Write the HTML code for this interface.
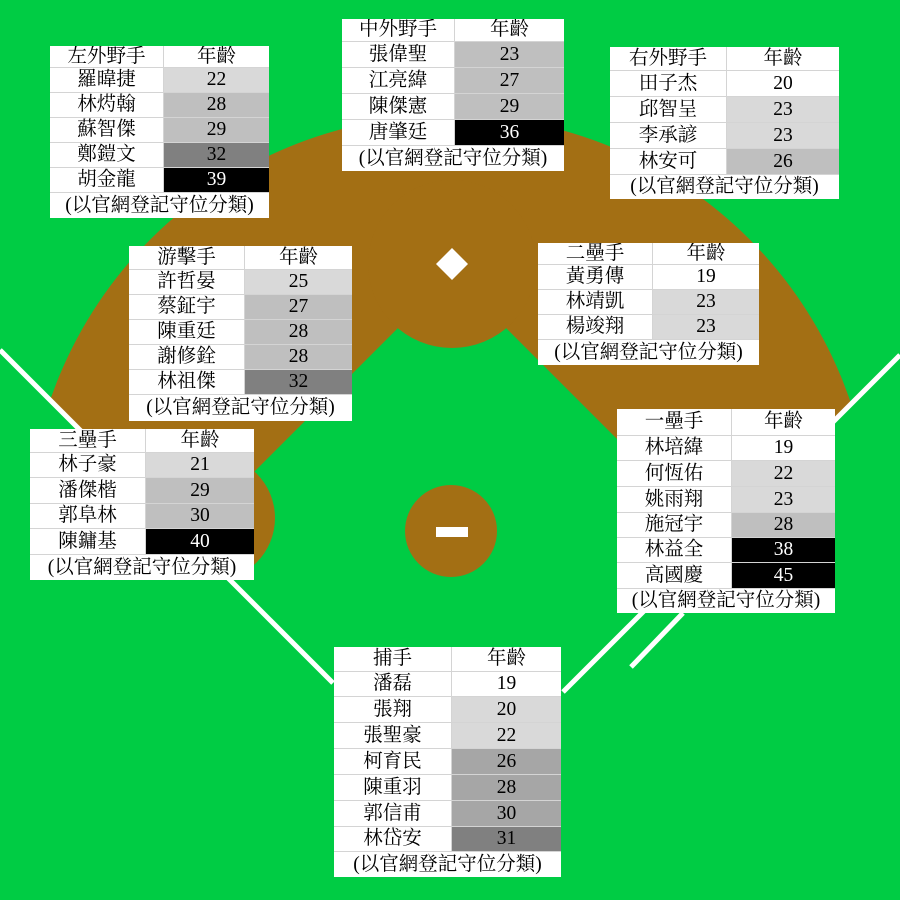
<!DOCTYPE html>
<html style="overflow:hidden"><head><meta charset="utf-8"><style>
html,body{margin:0;width:900px;height:900px;overflow:hidden;}
body{background:#00cc44;position:relative;font-family:"Liberation Serif","Noto Serif CJK SC","Noto Sans CJK TC",serif;}
svg{position:absolute;left:0;top:0}
.t{position:absolute;background:#fff;}
.r{display:flex;box-sizing:border-box;border-bottom:1px solid #d4d4d4;}
.r div{display:flex;align-items:center;justify-content:center;font-size:19.5px;line-height:1;color:#000;box-sizing:border-box;overflow:hidden;white-space:nowrap}
.r div:first-child{border-right:1px solid #d4d4d4}
.f{display:flex;align-items:center;justify-content:center;font-size:19.5px;line-height:1;white-space:nowrap;color:#000;overflow:hidden}
.a{background:#d9d9d9}.b{background:#bfbfbf}.c{background:#808080}.k{background:#000;color:#fff!important}.g{background:#a6a6a6}
</style></head><body>
<svg width="900" height="900">
<defs><clipPath id="fair"><polygon points="0,0 900,0 900,355 452.5,802.5 0,350"/></clipPath></defs>
<g clip-path="url(#fair)">
<circle cx="450" cy="538" r="423" fill="#a36f14"/>
<polygon points="452,274 900,722 900,900 0,900 0,726" fill="#00cc44"/>
<circle cx="452" cy="264" r="84" fill="#a36f14"/>
<circle cx="212" cy="518" r="63" fill="#a36f14"/>
<circle cx="692" cy="518" r="63" fill="#a36f14"/>
</g>
<circle cx="451" cy="531" r="46" fill="#a36f14"/>
<rect x="436" y="527" width="32" height="10" fill="#fff"/>
<polygon points="452,248 468,264 452,280 436,264" fill="#fff"/>
<line x1="0" y1="350" x2="333" y2="683" stroke="#fff" stroke-width="5"/>
<line x1="900" y1="355" x2="563" y2="692" stroke="#fff" stroke-width="5"/>
<line x1="683" y1="613" x2="631" y2="667" stroke="#fff" stroke-width="5"/>
</svg>

<div class="t" style="left:50px;top:46px;width:219px">
<div class="r" style="height:22px"><div style="width:114px">左外野手</div><div style="flex:1">年齡</div></div>
<div class="r" style="height:25px"><div style="width:114px">羅暐捷</div><div class="a" style="flex:1">22</div></div>
<div class="r" style="height:25px"><div style="width:114px">林烵翰</div><div class="b" style="flex:1">28</div></div>
<div class="r" style="height:25px"><div style="width:114px">蘇智傑</div><div class="b" style="flex:1">29</div></div>
<div class="r" style="height:25px"><div style="width:114px">鄭鎧文</div><div class="c" style="flex:1">32</div></div>
<div class="r" style="height:25px"><div style="width:114px">胡金龍</div><div class="k" style="flex:1">39</div></div>
<div class="f" style="height:25px">(以官網登記守位分類)</div>
</div>

<div class="t" style="left:342px;top:19px;width:222px">
<div class="r" style="height:23px"><div style="width:113px">中外野手</div><div style="flex:1">年齡</div></div>
<div class="r" style="height:26px"><div style="width:113px">張偉聖</div><div class="b" style="flex:1">23</div></div>
<div class="r" style="height:26px"><div style="width:113px">江亮緯</div><div class="b" style="flex:1">27</div></div>
<div class="r" style="height:26px"><div style="width:113px">陳傑憲</div><div class="b" style="flex:1">29</div></div>
<div class="r" style="height:26px"><div style="width:113px">唐肇廷</div><div class="k" style="flex:1">36</div></div>
<div class="f" style="height:25px">(以官網登記守位分類)</div>
</div>

<div class="t" style="left:610px;top:47px;width:229px">
<div class="r" style="height:24px"><div style="width:117px">右外野手</div><div style="flex:1">年齡</div></div>
<div class="r" style="height:26px"><div style="width:117px">田子杰</div><div style="flex:1">20</div></div>
<div class="r" style="height:26px"><div style="width:117px">邱智呈</div><div class="a" style="flex:1">23</div></div>
<div class="r" style="height:26px"><div style="width:117px">李承諺</div><div class="a" style="flex:1">23</div></div>
<div class="r" style="height:26px"><div style="width:117px">林安可</div><div class="b" style="flex:1">26</div></div>
<div class="f" style="height:24px">(以官網登記守位分類)</div>
</div>

<div class="t" style="left:129px;top:246px;width:223px">
<div class="r" style="height:24px"><div style="width:116px">游擊手</div><div style="flex:1">年齡</div></div>
<div class="r" style="height:25px"><div style="width:116px">許哲晏</div><div class="a" style="flex:1">25</div></div>
<div class="r" style="height:25px"><div style="width:116px">蔡鉦宇</div><div class="b" style="flex:1">27</div></div>
<div class="r" style="height:25px"><div style="width:116px">陳重廷</div><div class="b" style="flex:1">28</div></div>
<div class="r" style="height:25px"><div style="width:116px">謝修銓</div><div class="b" style="flex:1">28</div></div>
<div class="r" style="height:25px"><div style="width:116px">林祖傑</div><div class="c" style="flex:1">32</div></div>
<div class="f" style="height:26px">(以官網登記守位分類)</div>
</div>

<div class="t" style="left:538px;top:243px;width:221px">
<div class="r" style="height:22px"><div style="width:115px">二壘手</div><div style="flex:1">年齡</div></div>
<div class="r" style="height:25px"><div style="width:115px">黃勇傳</div><div style="flex:1">19</div></div>
<div class="r" style="height:25px"><div style="width:115px">林靖凱</div><div class="a" style="flex:1">23</div></div>
<div class="r" style="height:25px"><div style="width:115px">楊竣翔</div><div class="a" style="flex:1">23</div></div>
<div class="f" style="height:25px">(以官網登記守位分類)</div>
</div>

<div class="t" style="left:30px;top:429px;width:224px">
<div class="r" style="height:24px"><div style="width:116px">三壘手</div><div style="flex:1">年齡</div></div>
<div class="r" style="height:25px"><div style="width:116px">林子豪</div><div class="a" style="flex:1">21</div></div>
<div class="r" style="height:26px"><div style="width:116px">潘傑楷</div><div class="b" style="flex:1">29</div></div>
<div class="r" style="height:25px"><div style="width:116px">郭阜林</div><div class="b" style="flex:1">30</div></div>
<div class="r" style="height:26px"><div style="width:116px">陳鏞基</div><div class="k" style="flex:1">40</div></div>
<div class="f" style="height:25px">(以官網登記守位分類)</div>
</div>

<div class="t" style="left:617px;top:409px;width:218px">
<div class="r" style="height:27px"><div style="width:115px">一壘手</div><div style="flex:1">年齡</div></div>
<div class="r" style="height:25px"><div style="width:115px">林培緯</div><div style="flex:1">19</div></div>
<div class="r" style="height:26px"><div style="width:115px">何恆佑</div><div class="a" style="flex:1">22</div></div>
<div class="r" style="height:26px"><div style="width:115px">姚雨翔</div><div class="a" style="flex:1">23</div></div>
<div class="r" style="height:25px"><div style="width:115px">施冠宇</div><div class="b" style="flex:1">28</div></div>
<div class="r" style="height:25px"><div style="width:115px">林益全</div><div class="k" style="flex:1">38</div></div>
<div class="r" style="height:26px"><div style="width:115px">高國慶</div><div class="k" style="flex:1">45</div></div>
<div class="f" style="height:24px">(以官網登記守位分類)</div>
</div>

<div class="t" style="left:334px;top:647px;width:227px">
<div class="r" style="height:25px"><div style="width:118px">捕手</div><div style="flex:1">年齡</div></div>
<div class="r" style="height:25px"><div style="width:118px">潘磊</div><div style="flex:1">19</div></div>
<div class="r" style="height:26px"><div style="width:118px">張翔</div><div class="a" style="flex:1">20</div></div>
<div class="r" style="height:26px"><div style="width:118px">張聖豪</div><div class="a" style="flex:1">22</div></div>
<div class="r" style="height:26px"><div style="width:118px">柯育民</div><div class="g" style="flex:1">26</div></div>
<div class="r" style="height:26px"><div style="width:118px">陳重羽</div><div class="g" style="flex:1">28</div></div>
<div class="r" style="height:26px"><div style="width:118px">郭信甫</div><div class="g" style="flex:1">30</div></div>
<div class="r" style="height:25px"><div style="width:118px">林岱安</div><div class="c" style="flex:1">31</div></div>
<div class="f" style="height:25px">(以官網登記守位分類)</div>
</div>
</body></html>
